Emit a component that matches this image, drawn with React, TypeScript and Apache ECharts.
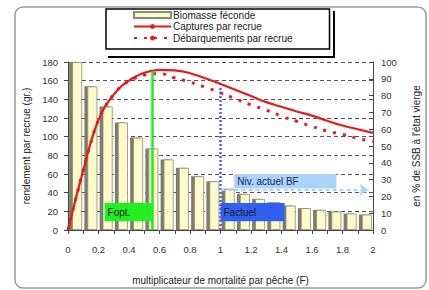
import React, { useEffect, useRef } from "react";
import * as echarts from "echarts";

// Bar categories (F multiplier) and spawning biomass (% of virgin, right axis)
const barCats = ["0", "0.1", "0.2", "0.3", "0.4", "0.5", "0.6", "0.7", "0.8", "0.9", "1", "1.1", "1.2", "1.3", "1.4", "1.5", "1.6", "1.7", "1.8", "1.9"];
const biomass = [100, 85.5, 73.5, 64, 55, 48.5, 42, 37, 32, 29, 24.5, 21.5, 18.5, 16.5, 14.5, 13, 12, 11, 9.8, 9.2];

// Yield curves (left axis, g per recruit)
const fValues = [0, 0.05, 0.1, 0.15, 0.2, 0.25, 0.3, 0.35, 0.4, 0.45, 0.5, 0.55, 0.6, 0.7, 0.8, 0.9, 1.0, 1.1, 1.2, 1.3, 1.4, 1.5, 1.6, 1.7, 1.8, 1.9, 2.0];
const captures = [0, 33, 64, 94, 118, 134, 145, 154, 160, 165, 168.5, 170.5, 171.5, 171, 168, 162.5, 156.5, 150, 143.5, 137, 132, 127, 122.5, 117, 112, 108, 104];
const landings = [0, 33, 64, 94, 118, 134, 145, 154, 159.5, 163.5, 166, 167.5, 167.5, 163, 158.5, 153, 147, 140.5, 134, 128.5, 122, 116.5, 111, 106, 102.5, 98, 95];

// Reference points
const fOpt = 0.55;
const fOptYield = 170;
const fActuel = 1.0;
const fActuelYield = 153;
const nivActuelBF = 24;

const seriesNames = ["Biomasse féconde", "Captures par recrue", "Débarquements par recrue"];
const leftTicks = { min: 0, max: 180, interval: 20 };
const rightTicks = { min: 0, max: 100, interval: 10 };

const FONT = "Liberation Sans, Arial, sans-serif";

export default function App() {
  const ref = useRef<HTMLDivElement>(null);
  useEffect(() => {
    document.body.style.margin = "0";
    const chart = echarts.init(ref.current!, null, { renderer: "svg" });
    const pair = (ys: number[]) => fValues.map((x, i) => [x, ys[i]]);
    chart.setOption({
      animation: false,
      textStyle: { fontFamily: FONT },
      grid: { left: 68, right: 52, top: 62, bottom: 54 },
      legend: {
        orient: "vertical",
        left: 106,
        top: 9,
        padding: [1, 37, 6, 27],
        itemWidth: 37,
        itemHeight: 6,
        itemGap: 1.5,
        z: 10,
        backgroundColor: "#ffffff",
        borderColor: "#000000",
        borderWidth: 1.5,
        borderRadius: 0,
        textStyle: { fontSize: 10, color: "#222", fontFamily: FONT, padding: [0, 0, 0, -3] },
        data: [{ name: seriesNames[0], icon: "rect" }, seriesNames[1], seriesNames[2]],
      },
      graphic: {
        elements: [
          { type: "rect", id: "outer", z: 100, shape: { x: 15, y: 7, width: 411, height: 281, r: 8 }, style: { fill: "none", stroke: "#9a9a9a", lineWidth: 1.5 } },
          { type: "polyline", id: "lgshadow", z: 100, shape: { points: [[334, 11], [334, 57], [108, 57]] }, style: { stroke: "#000", lineWidth: 2, fill: "none" } },
        ],
      },
      xAxis: [
        {
          type: "value",
          min: 0,
          max: 2,
          interval: 0.2,
          name: "multiplicateur de mortalité par pêche (F)",
          nameLocation: "middle",
          nameGap: 45,
          nameTextStyle: { fontSize: 10, color: "#222" },
          axisLine: { lineStyle: { color: "#444", width: 1 } },
          axisTick: { show: true, length: 4, lineStyle: { color: "#444" } },
          minorTick: { show: true, splitNumber: 2, length: 4, lineStyle: { color: "#444" } },
          splitLine: { show: false },
          axisLabel: { fontSize: 9.5, color: "#333", margin: 14, formatter: (v: number) => String(Math.round(v * 10) / 10) },
        },
        { type: "category", data: barCats, show: false, boundaryGap: true },
      ],
      yAxis: [
        {
          type: "value",
          ...leftTicks,
          name: "rendement par recrue (gr.)",
          nameLocation: "middle",
          nameGap: 34,
          nameTextStyle: { fontSize: 10, color: "#222" },
          axisLine: { show: true, lineStyle: { color: "#444" } },
          axisTick: { show: true, length: 4, lineStyle: { color: "#444" } },
          axisLabel: { fontSize: 9.5, color: "#333", margin: 10 },
          splitLine: { show: true, lineStyle: { color: "#555", type: [4, 3], width: 1 } },
        },
        {
          type: "value",
          ...rightTicks,
          position: "right",
          name: "en % de SSB à l'état vierge",
          nameLocation: "middle",
          nameGap: 38,
          nameRotate: 90,
          nameTextStyle: { fontSize: 10, color: "#222" },
          axisLine: { show: true, lineStyle: { color: "#444" } },
          axisTick: { show: true, inside: true, length: 4, lineStyle: { color: "#444" } },
          axisLabel: { fontSize: 9.5, color: "#333", margin: 8 },
          splitLine: { show: false },
        },
      ],
      series: [
        {
          name: "shadow",
          type: "bar",
          xAxisIndex: 1,
          yAxisIndex: 1,
          data: biomass,
          barWidth: 10,
          barGap: "-70%",
          itemStyle: { color: "#7d7d6c" },
          silent: true,
        },
        {
          name: seriesNames[0],
          type: "bar",
          xAxisIndex: 1,
          yAxisIndex: 1,
          data: biomass,
          barWidth: 10,
          barGap: "-70%",
          itemStyle: { color: "#fdfbc9", borderColor: "#8a8a78", borderWidth: 0.8 },
        },
        {
          name: seriesNames[1],
          type: "line",
          xAxisIndex: 0,
          yAxisIndex: 0,
          data: pair(captures),
          smooth: true,
          symbol: "none",
          lineStyle: { color: "#e31b1b", width: 2.2 },
          itemStyle: { color: "#e31b1b" },
          z: 4,
        },
        {
          name: seriesNames[2],
          type: "line",
          xAxisIndex: 0,
          yAxisIndex: 0,
          data: pair(landings),
          smooth: true,
          symbol: "none",
          lineStyle: { color: "#e31b1b", width: 3, type: [3, 7] },
          itemStyle: { color: "#e31b1b" },
          z: 4,
        },
        {
          name: "marks-left",
          type: "line",
          xAxisIndex: 0,
          yAxisIndex: 0,
          data: [],
          z: 5,
          markArea: {
            z: 6,
            silent: true,
            label: { show: true, position: "insideLeft", fontSize: 10, color: "#1a1a1a", distance: 3 },
            data: [
              [
                { name: "Fopt.", xAxis: 0.24, yAxis: 29, itemStyle: { color: "#22ee22", opacity: 1 } },
                { xAxis: fOpt, yAxis: 9.5 },
              ],
              [
                { name: "Factuel", xAxis: fActuel, yAxis: 29, itemStyle: { color: "#3060f0", opacity: 1 } },
                { xAxis: 1.42, yAxis: 9.5 },
              ],
            ],
          },
          markLine: {
            z: 7,
            silent: true,
            symbol: "none",
            label: { show: false },
            data: [
              [
                { coord: [fOpt, 0], lineStyle: { color: "#22ee22", width: 2.5, type: "solid" } },
                { coord: [fOpt, fOptYield] },
              ],
              [
                { coord: [fActuel, 0], lineStyle: { color: "#5a5ae0", width: 2.5, type: [2, 2] } },
                { coord: [fActuel, fActuelYield] },
              ],
            ],
          },
        },
        {
          name: "marks-right",
          type: "line",
          xAxisIndex: 0,
          yAxisIndex: 1,
          data: [],
          z: 5,
          markArea: {
            z: 6,
            silent: true,
            label: { show: true, position: "insideLeft", fontSize: 10, color: "#1c1c5c", distance: 3 },
            data: [
              [
                { name: "Niv. actuel BF", xAxis: 1.09, yAxis: 33.3, itemStyle: { color: "#a9d3f8", opacity: 1 } },
                { xAxis: 1.76, yAxis: 24.7 },
              ],
            ],
          },
          markLine: {
            z: 7,
            silent: true,
            symbol: ["none", "arrow"],
            symbolSize: 9,
            label: { show: false },
            data: [
              [
                { coord: [fActuel, nivActuelBF], lineStyle: { color: "#a9d3f8", width: 2, type: [4, 3] } },
                { coord: [1.97, nivActuelBF] },
              ],
            ],
          },
        },
      ],
    });
    return () => chart.dispose();
  }, []);
  return <div ref={ref} style={{ width: 429, height: 290 }} />;
}
